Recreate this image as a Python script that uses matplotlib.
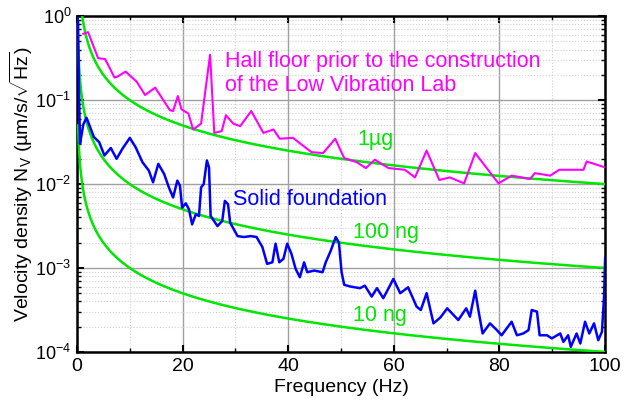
import numpy as np
import matplotlib
matplotlib.use("Agg")
import matplotlib.pyplot as plt
from matplotlib.ticker import LogLocator, MultipleLocator, NullFormatter

plt.rcParams['font.family'] = ['Liberation Sans', 'DejaVu Sans']
plt.rcParams['mathtext.fontset'] = 'custom'
plt.rcParams['mathtext.rm'] = 'Liberation Sans'
plt.rcParams['mathtext.it'] = 'Liberation Sans:italic'

# ---- data ----
hall_f = [1.2, 2.1, 4.0, 5.3, 5.9, 7.1, 7.7, 9.2, 11.3, 12.9, 14.8, 17.6, 18.2, 19.1,
          19.8, 21.1, 22.0, 23.5, 25.2, 26.0, 27.4, 28.2, 29.6, 30.9, 33.0, 35.3, 37.2,
          38.4, 40.9, 44.4, 46.6, 48.9, 50.6, 53.0, 54.7, 56.4, 59.0, 62.1, 64.0, 66.2,
          68.6, 70.6, 73.3, 75.4, 79.8, 82.3, 85.8, 86.7, 89.6, 91.3, 95.9, 96.5, 100.0]
hall_v = [0.617, 0.646, 0.316, 0.309, 0.263, 0.186, 0.191, 0.219, 0.166, 0.115, 0.141,
          0.0759, 0.0741, 0.112, 0.0776, 0.0692, 0.0447, 0.0525, 0.347, 0.0407, 0.0427,
          0.0661, 0.0525, 0.0490, 0.0741, 0.0407, 0.0447, 0.0347, 0.0355, 0.0240, 0.0234,
          0.0347, 0.0204, 0.0182, 0.0155, 0.0195, 0.0155, 0.0148, 0.0120, 0.0251, 0.0112,
          0.0120, 0.0102, 0.0234, 0.0102, 0.0126, 0.0115, 0.0135, 0.0126, 0.0148, 0.0148,
          0.0186, 0.0158]

solid_f = [0.05, 0.2, 0.35, 0.57, 0.9, 1.2, 1.8, 2.3, 3.2, 4.2, 5.2, 6.4, 7.5, 8.6, 10.0,
           11.1, 12.4, 13.6, 14.4, 15.4, 16.5, 17.4, 18.2, 19.0, 19.5, 19.9, 20.6, 21.2,
           21.8, 22.5, 23.1, 23.5, 24.0, 24.6, 25.0, 25.3, 26.6, 27.5, 28.0, 28.6, 29.0,
           30.4, 31.6, 32.9, 34.0, 35.1, 36.0, 37.0, 37.6, 38.3, 39.1, 39.8, 40.6, 41.4,
           42.2, 43.0, 43.6, 44.9, 46.5, 47.1, 48.0, 49.0, 49.6, 50.1, 50.6, 51.7, 53.6,
           54.5, 55.8, 56.8, 58.0, 59.0, 59.9, 61.2, 62.7, 64.3, 65.1, 66.2, 67.5, 68.8,
           70.1, 72.2, 73.7, 74.4, 75.4, 76.0, 76.8, 78.2, 79.5, 80.4, 82.3, 83.3, 84.5,
           85.5, 86.1, 87.1, 87.6, 89.0, 89.9, 91.5, 92.1, 93.0, 93.5, 94.6, 95.3, 96.2,
           97.0, 97.9, 98.7, 99.4, 99.8, 100.0]
solid_v = [0.95, 0.87, 0.158, 0.0302, 0.0398, 0.0513, 0.0617, 0.0513, 0.0363, 0.0316,
           0.0219, 0.0269, 0.0200, 0.0263, 0.0355, 0.0275, 0.0182, 0.0145, 0.0105, 0.0174,
           0.0132, 0.00912, 0.00692, 0.0110, 0.00955, 0.00525, 0.00589, 0.00501, 0.00331,
           0.00437, 0.00417, 0.00912, 0.0100, 0.0191, 0.0158, 0.00417, 0.00316, 0.00363,
           0.00631, 0.00575, 0.00347, 0.00240, 0.00234, 0.00240, 0.00234, 0.00178, 0.00112,
           0.00117, 0.00195, 0.00117, 0.00129, 0.00195, 0.00148, 0.000977, 0.000776,
           0.00117, 0.000891, 0.000933, 0.000891, 0.00117, 0.00158, 0.00234, 0.00200,
           0.000891, 0.000631, 0.000603, 0.000575, 0.000617, 0.000457, 0.000575, 0.000437,
           0.000575, 0.000741, 0.000501, 0.000589, 0.000347, 0.000316, 0.000501, 0.000219,
           0.000257, 0.000331, 0.000240, 0.000331, 0.000263, 0.000537, 0.000316, 0.000166,
           0.000219, 0.000182, 0.000158, 0.000229, 0.000158, 0.000166, 0.000182, 0.000316,
           0.000302, 0.000158, 0.000158, 0.000145, 0.000166, 0.000132, 0.000158, 0.000115,
           0.000166, 0.000126, 0.000229, 0.000166, 0.000219, 0.000138, 0.000174, 0.000457,
           0.00132]

# acceleration reference levels: velocity = level / f  (um/s/sqrt(Hz))
ref_labels = ['1µg', '100 ng', '10 ng']
ref_levels = [1.0, 0.1, 0.01]

magenta = '#ff00ff'
blue = '#0000ff'
green = '#00e600'

fig = plt.figure(figsize=(6.31, 4.05), dpi=100)
ax = fig.add_axes([0.122, 0.131, 0.837, 0.829])

f_ref = np.linspace(0.2, 100, 1000)
for lvl in ref_levels:
    ax.plot(f_ref, lvl / f_ref, color=green, lw=1.8, zorder=3)

ax.plot(hall_f, hall_v, color=magenta, lw=1.5, zorder=4)
ax.plot(solid_f, solid_v, color=blue, lw=1.8, zorder=5)

ax.set_yscale('log')
ax.set_xlim(0, 100)
ax.set_ylim(1e-4, 1)

ax.xaxis.set_major_locator(MultipleLocator(20))
ax.xaxis.set_minor_locator(MultipleLocator(10))
ax.yaxis.set_major_locator(LogLocator(base=10, numticks=10))
ax.yaxis.set_minor_locator(LogLocator(base=10, subs=np.arange(2, 10), numticks=20))
ax.yaxis.set_minor_formatter(NullFormatter())

ax.grid(which='major', color='#a0a0a0', lw=1.0, ls='-', zorder=0)
ax.grid(which='minor', color='#d0d0d0', lw=0.8, ls=':', zorder=0)
ax.set_axisbelow(True)

ax.tick_params(which='both', direction='in', top=True, right=True, color='black')
ax.tick_params(axis='x', labelsize=14)
ax.tick_params(axis='y', labelsize=13)
ax.tick_params(which='major', length=5, width=1.5, pad=4)
ax.tick_params(which='minor', length=3, width=1.0)
for s in ax.spines.values():
    s.set_linewidth(1.8)

ax.set_xlabel('Frequency (Hz)', fontsize=14, labelpad=3)
ax.set_ylabel(r'Velocity density N$_\mathrm{V}$ (µm/s/$\sqrt{\mathrm{Hz}}$)', fontsize=14)
ax.yaxis.set_label_coords(-0.079, 0.5)

fs = 15.5
ax.text(28.0, 0.247, 'Hall floor prior to the construction', color=magenta,
        fontsize=fs, ha='left', va='baseline')
ax.text(28.0, 0.128, 'of the Low Vibration Lab', color=magenta,
        fontsize=fs, ha='left', va='baseline')
ax.text(29.6, 0.00562, 'Solid foundation', color=blue, fontsize=fs, ha='left', va='baseline')
ax.text(53.0, 0.0291, ref_labels[0], color=green, fontsize=fs, ha='left', va='baseline')
ax.text(52.3, 0.00228, ref_labels[1], color=green, fontsize=fs, ha='left', va='baseline')
ax.text(52.3, 0.000234, ref_labels[2], color=green, fontsize=fs, ha='left', va='baseline')

fig.savefig('out.png', dpi=100)
